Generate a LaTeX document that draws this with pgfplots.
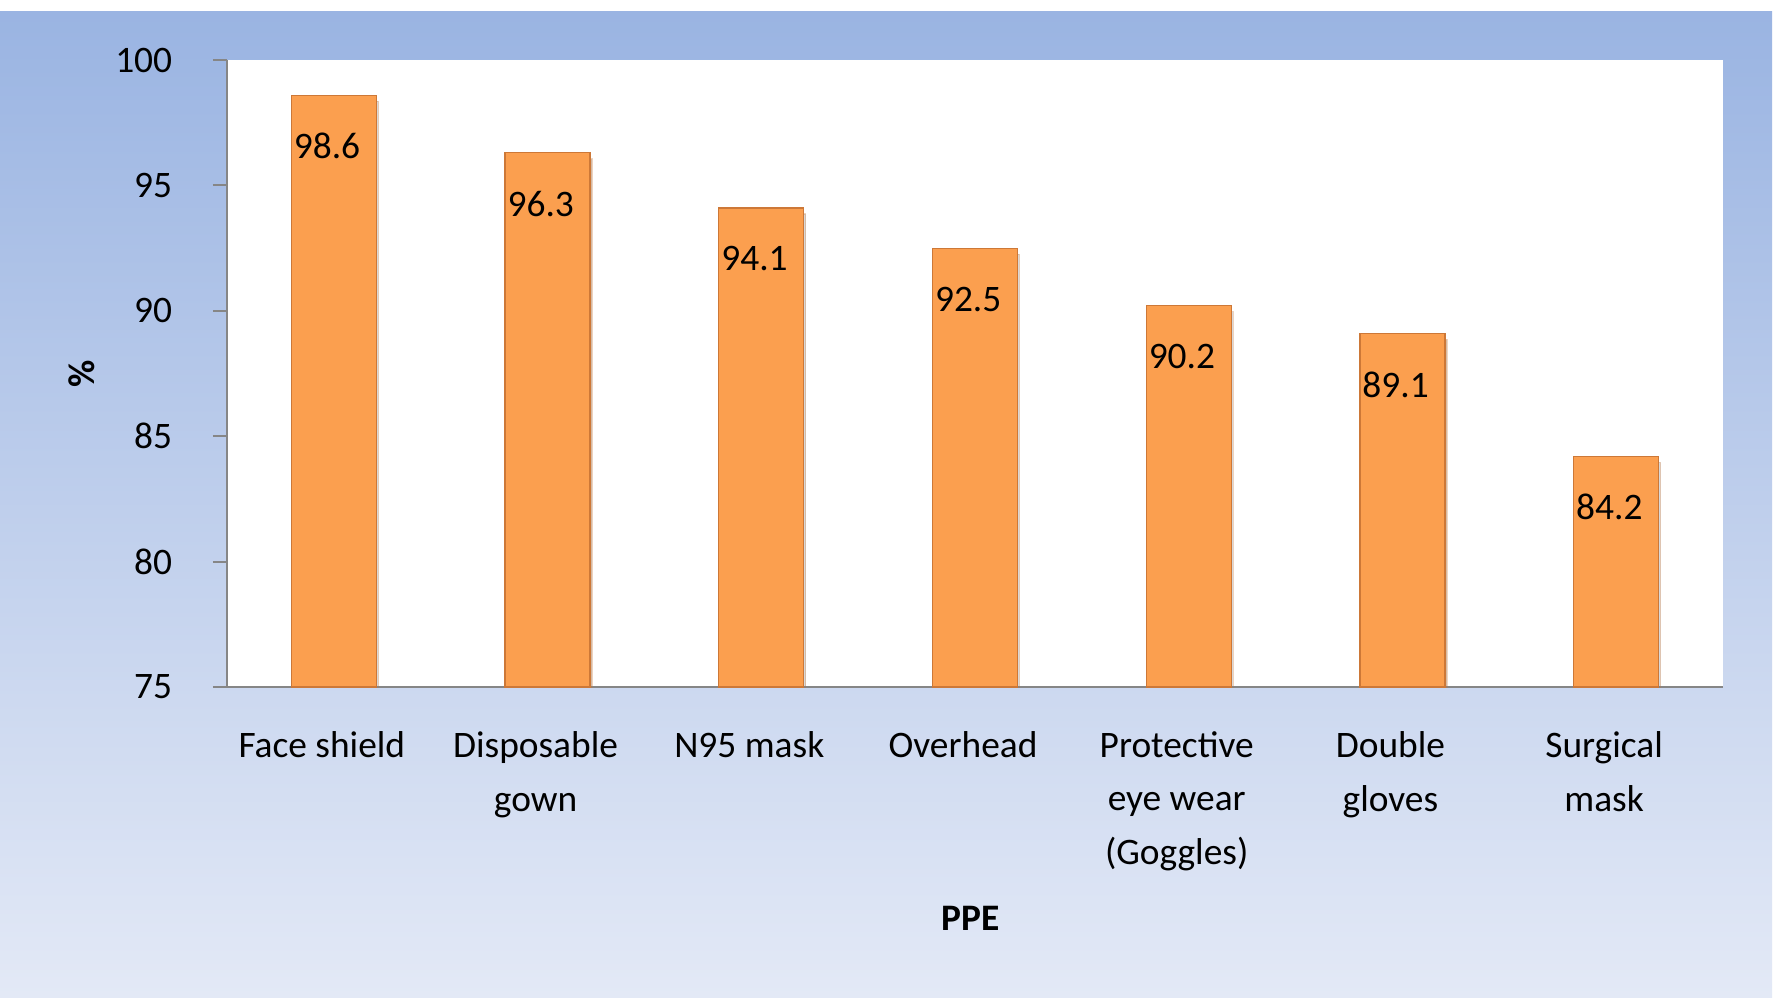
\documentclass[border=0pt]{standalone}
\usepackage{fontspec}
\setmainfont{Carlito}
\usepackage{pgfplots}
\pgfplotsset{compat=1.18}
\usetikzlibrary{shadows}
\definecolor{bgtop}{RGB}{154,180,226}
\definecolor{bgbot}{RGB}{227,233,246}
\definecolor{barfill}{RGB}{251,159,79}
\definecolor{baredge}{RGB}{205,120,55}
\definecolor{axgray}{RGB}{134,134,134}
\begin{document}
\fontsize{18.7}{22}\selectfont
\begin{tikzpicture}
\path[use as bounding box, fill=white] (-113.5pt,-155pt) rectangle (775pt,343.5pt);
\shade[top color=bgtop,bottom color=bgbot] (-113.5pt,-155pt) rectangle (772.5pt,337.5pt);
\begin{axis}[
  at={(0pt,0pt)}, anchor=south west,
  scale only axis, width=748pt, height=313.5pt,
  axis background/.style={fill=white},
  ybar, bar width=42.5pt,
  xmin=-0.5, xmax=6.5, ymin=75, ymax=100,
  ytick={75,80,85,90,95,100},
  xtick={0,1,2,3,4,5,6},
  xticklabels={Face shield,{Disposable\\gown},N95 mask,Overhead,{Protective\\eye wear\\(Goggles)},{Double\\gloves},{Surgical\\mask}},
  axis x line*=bottom, axis y line*=left,
  axis line style={axgray, line width=1pt},
  tick align=outside, major tick length=7pt,
  ytick style={axgray, line width=1pt},
  xtick style={draw=none},
  /pgf/number format/assume math mode=true,
  tick label style={font=\fontsize{18.7}{26.6}\selectfont, text=black},
  yticklabel style={xshift=-14pt},
  xticklabel style={align=center, anchor=north, yshift=-9pt, xshift=-6pt},
  xlabel={PPE}, ylabel={\%},
  label style={font=\fontsize{18.7}{22}\selectfont\bfseries},
  xlabel style={at={(axis description cs:0.497,0)}, anchor=center, yshift=-115.5pt},
  ylabel style={at={(axis description cs:-0.0972,0.5)}, anchor=center, rotate=0},
  nodes near coords={\pgfmathprintnumber[fixed,precision=1,fixed zerofill,assume math mode=true]{\pgfplotspointmeta}},
  nodes near coords style={anchor=center, yshift=-25.5pt, xshift=-3.4pt, font=\fontsize{18.7}{22}\selectfont, text=black},
]
\addplot[fill=barfill, draw=baredge, line width=0.6pt, drop shadow={opacity=0.3, shadow xshift=1pt, shadow yshift=-3pt}]
  coordinates {(0,98.6) (1,96.3) (2,94.1) (3,92.5) (4,90.2) (5,89.1) (6,84.2)};
\end{axis}
\end{tikzpicture}
\end{document}
